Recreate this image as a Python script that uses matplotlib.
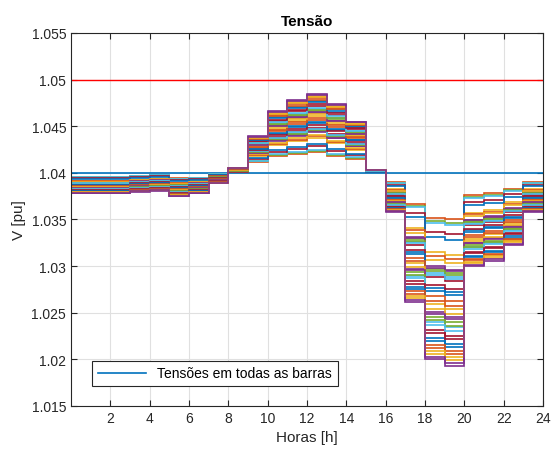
import numpy as np
import matplotlib
matplotlib.use("Agg")
import matplotlib.pyplot as plt
from matplotlib.ticker import FormatStrFormatter

plt.rcParams['font.family'] = ['Liberation Sans', 'DejaVu Sans']

# intervalos horarios [h-1, h]
horas = np.arange(0, 25)

# tensao da barra mais proxima da subestacao em cada hora
v_perto = [1.0396, 1.0396, 1.0396, 1.0397, 1.0398, 1.0394, 1.0395, 1.0399,
           1.0401, 1.0412, 1.0418, 1.0420, 1.0422, 1.0418, 1.0415, 1.0401,
           1.0390, 1.0367, 1.0352, 1.0350, 1.0376, 1.0378, 1.0383, 1.0390]
# tensao da barra mais distante em cada hora
v_longe = [1.0378, 1.0378, 1.0378, 1.0380, 1.0381, 1.0375, 1.0378, 1.0389,
           1.0405, 1.0439, 1.0466, 1.0478, 1.0485, 1.0474, 1.0455, 1.0403,
           1.0358, 1.0262, 1.0200, 1.0193, 1.0300, 1.0306, 1.0323, 1.0358]
# posicao relativa de cada barra entre a mais proxima (0) e a mais distante (1)
pos_tronco = [0.0, 0.245, 0.343, 0.365, 0.39, 0.42, 0.497, 0.554, 0.611,
              0.668, 0.702, 0.737, 0.794, 0.851, 0.92, 0.96, 1.0]
pos_ramais = [0.027, 0.039, 0.10, 0.14, 0.27, 0.297, 0.355, 0.378, 0.405,
              0.474, 0.519, 0.588, 0.645, 0.68, 0.725, 0.76, 0.817, 0.874,
              0.897, 0.94, 0.98]
v_sub = 1.04
v_max = 1.05

cores = ['#0072BD', '#D95319', '#EDB120', '#7E2F8E', '#77AC30', '#4DBEEE', '#A2142F']

v_perto = np.array(v_perto)
v_longe = np.array(v_longe)
V = [np.full(24, v_sub)]
for p in pos_tronco + pos_ramais:
    V.append(v_perto + p * (v_longe - v_perto))

fig = plt.figure(figsize=(5.52, 4.52), dpi=100)
ax = fig.add_axes([0.1286, 0.0996, 0.8551, 0.8252])

for i, v in enumerate(V):
    ax.stairs(v, horas, baseline=None, color=cores[i % 7], lw=1.2,
              label='Tensões em todas as barras' if i == 0 else None)
ax.plot([0, 24], [v_max, v_max], color='#FF0000', lw=1.0)

ax.set_xlim(0, 24)
ax.set_ylim(1.015, 1.055)
ax.set_xticks(np.arange(2, 25, 2))
ax.set_yticks(np.arange(1.015, 1.0551, 0.005))
ax.yaxis.set_major_formatter(FormatStrFormatter('%g'))
ax.grid(True, color='#e0e0e0', lw=0.8)
ax.set_axisbelow(True)
ax.tick_params(direction='in', top=True, right=True, labelsize=10,
               colors='#262626', length=4)
for s in ax.spines.values():
    s.set_color('#262626')

ax.set_title('Tensão', fontsize=11, fontweight='bold', color='#000000')
ax.set_xlabel('Horas [h]', fontsize=11, color='#262626')
ax.set_ylabel('V [pu]', fontsize=11, color='#262626')

leg = ax.legend(loc='lower left', bbox_to_anchor=(0.03, 0.035), fontsize=10,
                fancybox=False, edgecolor='#262626', framealpha=1,
                handlelength=3.5, borderpad=0.4)
leg.get_frame().set_linewidth(0.8)

plt.savefig('out.png', dpi=100)
